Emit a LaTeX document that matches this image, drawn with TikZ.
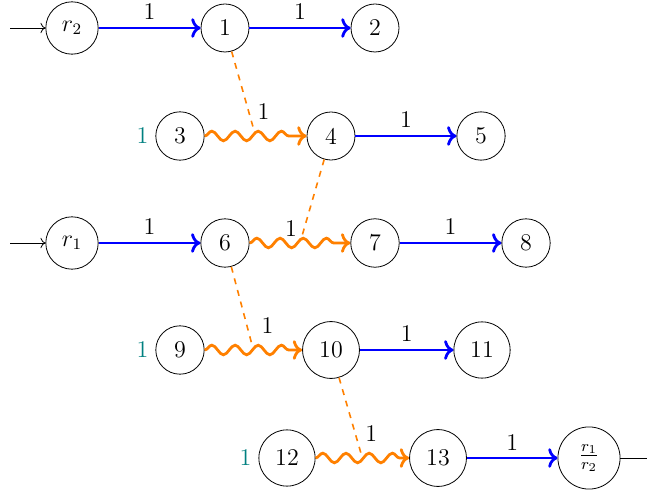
\documentclass[tikz,border=0pt]{standalone}
\usetikzlibrary{decorations.pathmorphing,arrows.meta}
\begin{document}
\begin{tikzpicture}[x=0.5pt,y=-0.5pt,font=\large,
  st/.style={circle,draw,line width=0.4pt,inner sep=5pt,minimum size=24pt},
  blueedge/.style={->,blue,line width=1.4pt},
  wavy/.style={->,orange,line width=1.4pt,decorate,decoration={snake,amplitude=2.4pt,segment length=11.6pt,post length=1.5mm}},
  link/.style={orange,dashed,line width=0.8pt,shorten >=1.5pt},
  lbl/.style={above,inner sep=3.3pt,text=black},
  tl/.style={label={[teal,inner sep=3.3pt]left:1}}
]
\useasboundingbox (0,0) rectangle (647,491);
% row 1
\node[st] (r2) at (72,28) {$r_2$};
\node[st] (n1) at (225,28) {1};
\node[st] (n2) at (375,28) {2};
% row 2
\node[st,tl] (n3) at (180,136) {3};
\node[st] (n4) at (331,136) {4};
\node[st] (n5) at (481,136) {5};
% row 3
\node[st] (r1) at (72,243) {$r_1$};
\node[st] (n6) at (225,243) {6};
\node[st] (n7) at (375,243) {7};
\node[st] (n8) at (526,243) {8};
% row 4
\node[st,tl] (n9) at (180,350) {9};
\node[st] (n10) at (331,350) {10};
\node[st] (n11) at (482,350) {11};
% row 5
\node[st,tl] (n12) at (287,458) {12};
\node[st] (n13) at (438,458) {13};
\node[st] (n14) at (589,458) {$\frac{r_1}{r_2}$};
% start / end
\coordinate (s2) at (10,28);
\coordinate (s1) at (10,243);
\coordinate (e14) at (647,458);
\draw[->] (s2) -- (r2);
\draw[->] (s1) -- (r1);
\draw (n14) -- (e14);
% blue edges
\draw[blueedge] (r2) -- node[lbl]{1} (n1);
\draw[blueedge] (n1) -- node[lbl]{1} (n2);
\draw[blueedge] (n4) -- node[lbl]{1} (n5);
\draw[blueedge] (r1) -- node[lbl]{1} (n6);
\draw[blueedge] (n7) -- node[lbl]{1} (n8);
\draw[blueedge] (n10) -- node[lbl]{1} (n11);
\draw[blueedge] (n13) -- node[lbl]{1} (n14);
% wavy edges
\draw[wavy] (n3) -- coordinate (m34) node[lbl,xshift=4pt,yshift=4.3pt]{1} (n4);
\draw[wavy] (n6) -- coordinate (m67) node[lbl,xshift=-4.5pt,yshift=-0.7pt]{1} (n7);
\draw[wavy] (n9) -- coordinate (m910) node[lbl,xshift=7pt,yshift=4.3pt]{1} (n10);
\draw[wavy] (n12) -- coordinate (m1213) node[lbl,xshift=4.5pt,yshift=4.3pt]{1} (n13);
% dashed links
\draw[link] (n1) -- (m34);
\draw[link] (n4) -- (m67);
\draw[link] (n6) -- (m910);
\draw[link] (n10) -- (m1213);
\end{tikzpicture}
\end{document}
